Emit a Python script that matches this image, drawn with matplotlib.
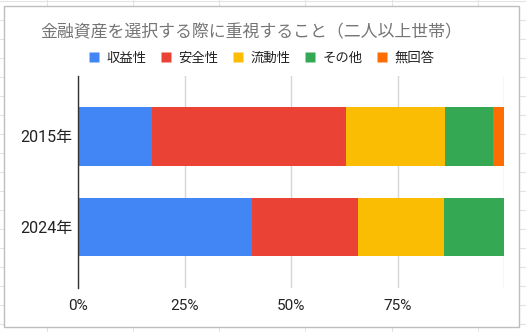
import matplotlib
matplotlib.use("Agg")
import matplotlib.pyplot as plt
from matplotlib.lines import Line2D
from matplotlib.patches import Rectangle

years = ['2015年', '2024年']
series_names = ['収益性', '安全性', '流動性', 'その他', '無回答']
shueki = [17.4, 40.8]
anzen = [45.6, 25.0]
ryudo = [23.1, 20.1]
sonota = [11.4, 14.1]
mukaito = [2.5, 0.0]
xticks = [0, 25, 50, 75, 100]
xtick_labels = ['0%', '25%', '50%', '75%', '']
colors = ['#4285F4', '#EA4335', '#FBBC04', '#34A853', '#FF6D01']
title = '金融資産を選択する際に重視すること（二人以上世帯）'

CJK = ['Noto Sans CJK JP', 'DejaVu Sans']
NUM = ['Roboto', 'Noto Sans CJK JP', 'DejaVu Sans']

W, H = 526, 332
fig = plt.figure(figsize=(W / 100, H / 100), dpi=100)
fig.patch.set_facecolor('white')

# spreadsheet background lines
for x in [47, 133, 219, 305, 392, 478]:
    fig.add_artist(Line2D([x / W, x / W], [0, 1], color='#e3e3e3', lw=0.8, zorder=0))
for y in range(0, H, 19):
    fig.add_artist(Line2D([0, 1], [1 - (y + 1) / H, 1 - (y + 1) / H], color='#e3e3e3', lw=0.8, zorder=0))

# chart frame
fig.add_artist(Rectangle((4 / W, 1 - 327 / H), (519 - 4) / W, (327 - 6) / H,
                         transform=fig.transFigure, facecolor='white',
                         edgecolor='#bdbdbd', lw=1.0, zorder=0.5))

left, right, top, bottom = 78.3, 504, 76, 288
ax = fig.add_axes([left / W, 1 - bottom / H, (right - left) / W, (bottom - top) / H])
ax.set_facecolor('none')
ax.set_zorder(1)

data = [shueki, anzen, ryudo, sonota, mukaito]
ypos = list(range(len(years)))
cum = [0.0] * len(years)
for name, vals, c in zip(series_names, data, colors):
    ax.barh(ypos, vals, left=cum, height=0.644, color=c, edgecolor='none', label=name, zorder=3)
    cum = [a + b for a, b in zip(cum, vals)]

ax.set_xlim(0, 100)
ax.set_ylim(1.669, -0.663)
ax.set_xticks(xticks)
ax.set_xticklabels(xtick_labels, family=NUM, fontsize=11, color='#222222')
ax.set_yticks(ypos)
ax.set_yticklabels(years, family=NUM, fontsize=11.5, color='#222222')
ax.tick_params(axis='both', length=0)
ax.tick_params(axis='x', pad=8)
ax.tick_params(axis='y', pad=4)
ax.grid(axis='x', color='#d6d6d6', lw=1.0, zorder=0)
for s in ['top', 'right', 'bottom']:
    ax.spines[s].set_visible(False)
ax.spines['left'].set_color('#333333')
ax.spines['left'].set_linewidth(1.0)
ax.spines['left'].set_zorder(4)

fig.text(251.7 / W, 1 - 32 / H, title, ha='center', va='center', fontsize=12.2,
         color='#757575', family=CJK)

handles = [Line2D([], [], marker='s', linestyle='none', markersize=6.5,
                  markerfacecolor=c, markeredgecolor='none') for c in colors]
fig.legend(handles, series_names, loc='center', bbox_to_anchor=(262 / W, 1 - 58 / H),
           ncol=5, frameon=False, prop={'family': CJK, 'size': 9.6},
           handlelength=0.7, handletextpad=0.6, columnspacing=1.1, labelcolor='#222222')

fig.savefig('out.png', dpi=100, facecolor='white')
